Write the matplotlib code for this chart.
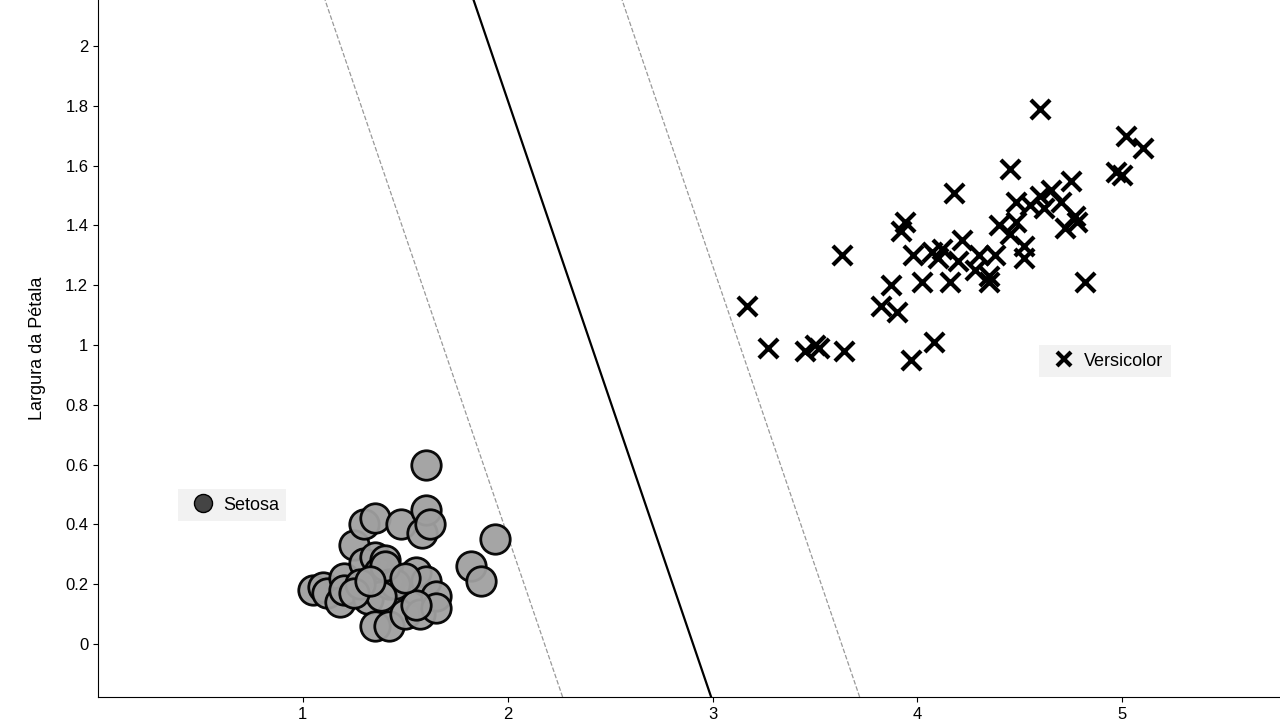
import matplotlib
matplotlib.use("Agg")
import matplotlib.pyplot as plt
import numpy as np
from matplotlib.lines import Line2D

plt.rcParams['font.family'] = ['Liberation Sans', 'DejaVu Sans']

setosa_x = [1.05,1.10,1.12,1.20,1.18,1.20,1.25,1.30,1.35,1.30,1.32,1.35,1.37,1.35,1.42,1.40,1.42,1.48,1.50,1.55,1.55,1.57,1.58,1.60,1.62,1.60,1.60,1.65,1.65,1.55,1.45,1.38,1.28,1.25,1.82,1.87,1.94,1.40,1.50,1.33]
setosa_y = [0.18,0.19,0.17,0.22,0.14,0.18,0.33,0.40,0.42,0.27,0.15,0.29,0.24,0.06,0.06,0.28,0.20,0.40,0.10,0.18,0.24,0.10,0.37,0.45,0.40,0.60,0.21,0.16,0.12,0.13,0.20,0.16,0.20,0.17,0.26,0.21,0.35,0.26,0.22,0.21]
vers_x = [3.17,3.27,3.45,3.50,3.52,3.64,3.63,3.82,3.87,3.90,3.92,3.94,3.97,3.98,4.02,4.07,4.10,4.08,4.12,4.16,4.18,4.20,4.22,4.30,4.35,4.35,4.38,4.40,4.45,4.45,4.48,4.48,4.52,4.52,4.55,4.60,4.60,4.62,4.65,4.70,4.72,4.75,4.77,4.78,4.82,4.97,5.00,5.02,5.10,4.28]
vers_y = [1.13,0.99,0.98,1.00,0.99,0.98,1.30,1.13,1.20,1.11,1.38,1.41,0.95,1.30,1.21,1.31,1.29,1.01,1.32,1.21,1.51,1.28,1.35,1.30,1.23,1.21,1.30,1.40,1.37,1.59,1.48,1.41,1.33,1.29,1.47,1.79,1.50,1.46,1.52,1.48,1.39,1.55,1.43,1.41,1.21,1.58,1.57,1.70,1.66,1.25]

# decision boundary: w0*x + w1*y + b = 0, margins at +-1
m = 0.725
w = [1.0 / m, 1.0 / (m * 2.01)]
b = -2.905 / m

fig = plt.figure(figsize=(12.8, 7.2), dpi=100)
ax = fig.add_axes([98/1280, 23/720, 1 - 98/1280, 697/720])
xlim = (0, 5.77); ylim = (-0.177, 2.154)
yy = np.array(ylim)
for off, ls, c, lw in [(0, '-', 'black', 1.6), (1, '--', '#999999', 0.9), (-1, '--', '#999999', 0.9)]:
    xx = (off - b - w[1] * yy) / w[0]
    ax.plot(xx, yy, ls=ls, color=c, lw=lw, zorder=1)

ax.scatter(setosa_x, setosa_y, s=450, facecolor='#a0a0a0', edgecolor='black', lw=2, alpha=0.95, zorder=3)
ax.scatter(vers_x, vers_y, s=190, marker='x', color='black', lw=3, zorder=3)

ax.set_xlim(*xlim); ax.set_ylim(*ylim)
ax.spines['top'].set_visible(False); ax.spines['right'].set_visible(False)
ax.set_xticks([1, 2, 3, 4, 5]); ax.set_xticklabels(['1','2','3','4','5'])
ax.set_yticks([0, 0.2, 0.4, 0.6, 0.8, 1, 1.2, 1.4, 1.6, 1.8, 2])
ax.set_yticklabels(['0','0.2','0.4','0.6','0.8','1','1.2','1.4','1.6','1.8','2'])
ax.tick_params(labelsize=12)
ax.set_ylabel('Largura da Pétala', fontsize=13, labelpad=14)

h1 = Line2D([], [], marker='o', ls='', markersize=13, markerfacecolor='#444444', markeredgecolor='black')
h2 = Line2D([], [], marker='x', ls='', markersize=10, color='black', markeredgewidth=3)
leg1 = ax.legend([h1], ['Setosa'], loc='center', bbox_to_anchor=((232-98)/1182, (697-505)/697),
                 bbox_transform=ax.transAxes, fontsize=13, frameon=True, fancybox=False,
                 facecolor='#f2f2f2', edgecolor='none', framealpha=1, handletextpad=0.1, borderpad=0.4)
ax.add_artist(leg1)
ax.legend([h2], ['Versicolor'], loc='center', bbox_to_anchor=((1105-98)/1182, (697-361)/697),
          bbox_transform=ax.transAxes, fontsize=13, frameon=True, fancybox=False,
          facecolor='#f2f2f2', edgecolor='none', framealpha=1, handletextpad=0.1, borderpad=0.4)

fig.savefig('out.png', dpi=100)
